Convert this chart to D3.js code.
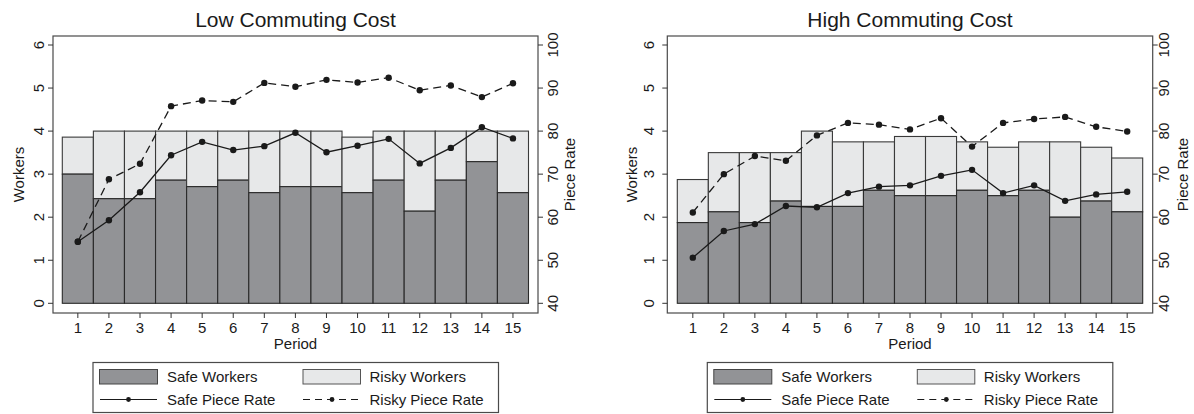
<!DOCTYPE html>
<html>
<head>
<meta charset="utf-8">
<script src="https://cdn.jsdelivr.net/npm/d3@7"></script>
<style>
  body { margin: 0; background: #fff; }
  svg { display: block; font-family: "Liberation Sans", Arial, sans-serif; }
</style>
</head>
<body>
<div id="chart"></div>
<script>
// Periods on the x axis
const periods = [1, 2, 3, 4, 5, 6, 7, 8, 9, 10, 11, 12, 13, 14, 15];
const workerTicks = [0, 1, 2, 3, 4, 5, 6];
const rateTicks = [40, 50, 60, 70, 80, 90, 100];

// Low commuting cost
const lowSafeWorkers  = [3.0, 2.43, 2.43, 2.86, 2.71, 2.86, 2.57, 2.71, 2.71, 2.57, 2.86, 2.14, 2.86, 3.29, 2.57];
const lowRiskyWorkers = [0.86, 1.57, 1.57, 1.14, 1.29, 1.14, 1.43, 1.29, 1.29, 1.29, 1.14, 1.86, 1.14, 0.71, 1.43];
const lowSafeRate  = [54.3, 59.3, 65.8, 74.4, 77.5, 75.6, 76.5, 79.6, 75.1, 76.6, 78.2, 72.5, 76.1, 80.9, 78.3];
const lowRiskyRate = [54.3, 68.8, 72.4, 85.8, 87.1, 86.8, 91.2, 90.3, 91.9, 91.3, 92.4, 89.5, 90.6, 87.9, 91.1];

// High commuting cost
const highSafeWorkers  = [1.875, 2.125, 1.875, 2.375, 2.25, 2.25, 2.625, 2.5, 2.5, 2.625, 2.5, 2.625, 2.0, 2.375, 2.125];
const highRiskyWorkers = [1.0, 1.375, 1.625, 1.125, 1.75, 1.5, 1.125, 1.375, 1.375, 1.125, 1.125, 1.125, 1.75, 1.25, 1.25];
const highSafeRate  = [50.6, 56.8, 58.4, 62.6, 62.3, 65.6, 67.1, 67.4, 69.6, 71.0, 65.6, 67.4, 63.8, 65.3, 65.9];
const highRiskyRate = [61.1, 70.0, 74.2, 73.1, 79.0, 81.9, 81.5, 80.4, 83.0, 76.4, 81.9, 82.8, 83.3, 81.0, 79.9];

const W = 1194, H = 414;
const SAFE_FILL = '#929396';
const RISKY_FILL = '#e7e8e9';
const INK = '#1a1a1a';

const svg = d3.select('#chart').append('svg')
  .attr('width', W)
  .attr('height', H);

function drawPanel(cfg) {
  const g = svg.append('g');
  const top = 36, bottom = 313;

  const x = d3.scaleLinear().domain([0.5, 15.5]).range([cfg.barLeft, cfg.barRight]);
  const yW = d3.scaleLinear().domain([0, 6]).range([303.3, 45]);
  const yR = d3.scaleLinear().domain([40, 100]).range([303.3, 45]);
  const bw = x(1.5) - x(0.5);

  // Plot region outline
  g.append('rect')
    .attr('x', cfg.left).attr('y', top)
    .attr('width', cfg.right - cfg.left).attr('height', bottom - top)
    .attr('fill', '#fff').attr('stroke', '#4a4a4a').attr('stroke-width', 1.2);

  // Bars: safe on bottom, risky stacked above
  const bars = g.append('g');
  periods.forEach((p, i) => {
    const s = cfg.safe[i], r = cfg.risky[i];
    bars.append('rect')
      .attr('x', x(p) - bw / 2).attr('y', yW(s + r))
      .attr('width', bw).attr('height', yW(s) - yW(s + r))
      .attr('fill', RISKY_FILL).attr('stroke', '#3a3a3a').attr('stroke-width', 1.1);
    bars.append('rect')
      .attr('x', x(p) - bw / 2).attr('y', yW(s))
      .attr('width', bw).attr('height', yW(0) - yW(s))
      .attr('fill', SAFE_FILL).attr('stroke', '#2a2a2a').attr('stroke-width', 1.1);
  });

  // Piece rate lines
  const line = d3.line().x((d, i) => x(periods[i])).y(d => yR(d));
  g.append('path').datum(cfg.riskyRate)
    .attr('d', line).attr('fill', 'none')
    .attr('stroke', INK).attr('stroke-width', 1.3).attr('stroke-dasharray', '8,5');
  g.append('path').datum(cfg.safeRate)
    .attr('d', line).attr('fill', 'none')
    .attr('stroke', INK).attr('stroke-width', 1.3);
  [cfg.safeRate, cfg.riskyRate].forEach(arr => {
    g.append('g').selectAll('circle').data(arr).join('circle')
      .attr('cx', (d, i) => x(periods[i])).attr('cy', d => yR(d))
      .attr('r', 3.2).attr('fill', INK);
  });

  // Left axis (Workers)
  const ax = g.append('g');
  workerTicks.forEach(t => {
    ax.append('line').attr('x1', cfg.left - 5).attr('x2', cfg.left)
      .attr('y1', yW(t)).attr('y2', yW(t)).attr('stroke', '#333');
    ax.append('text')
      .attr('transform', `translate(${cfg.leftLabel},${yW(t)}) rotate(-90)`)
      .attr('text-anchor', 'middle').attr('font-size', 15).attr('fill', INK)
      .text(t);
  });
  ax.append('text')
    .attr('transform', `translate(${cfg.leftTitle},${(top + bottom) / 2}) rotate(-90)`)
    .attr('text-anchor', 'middle').attr('font-size', 15).attr('fill', INK)
    .text('Workers');

  // Right axis (Piece Rate)
  rateTicks.forEach(t => {
    ax.append('line').attr('x1', cfg.right).attr('x2', cfg.right + 5)
      .attr('y1', yR(t)).attr('y2', yR(t)).attr('stroke', '#333');
    ax.append('text')
      .attr('transform', `translate(${cfg.rightLabel},${yR(t)}) rotate(-90)`)
      .attr('text-anchor', 'middle').attr('font-size', 15).attr('fill', INK)
      .text(t);
  });
  ax.append('text')
    .attr('transform', `translate(${cfg.rightTitle},${(top + bottom) / 2}) rotate(-90)`)
    .attr('text-anchor', 'middle').attr('font-size', 15).attr('fill', INK)
    .text('Piece Rate');

  // Bottom axis (Period)
  periods.forEach(p => {
    ax.append('line').attr('x1', x(p)).attr('x2', x(p))
      .attr('y1', bottom).attr('y2', bottom + 5).attr('stroke', '#333');
    ax.append('text')
      .attr('x', x(p)).attr('y', 332.5)
      .attr('text-anchor', 'middle').attr('font-size', 15).attr('fill', INK)
      .text(p);
  });
  const cx = (cfg.left + cfg.right) / 2;
  ax.append('text')
    .attr('x', cx).attr('y', 349)
    .attr('text-anchor', 'middle').attr('font-size', 15).attr('fill', INK)
    .text('Period');

  // Title
  g.append('text')
    .attr('x', cx).attr('y', 26.5)
    .attr('text-anchor', 'middle').attr('font-size', 21).attr('fill', INK)
    .text(cfg.title);

  // Legend
  const lx = cfg.left + 40, ly = 362.5;
  const lg = g.append('g').attr('transform', `translate(${lx},${ly})`);
  lg.append('rect').attr('x', 0).attr('y', 0).attr('width', 405.5).attr('height', 50)
    .attr('fill', '#fff').attr('stroke', '#4a4a4a').attr('stroke-width', 1.2);
  lg.append('rect').attr('x', 6.5).attr('y', 7).attr('width', 58).attr('height', 14.5)
    .attr('fill', SAFE_FILL).attr('stroke', '#444');
  lg.append('rect').attr('x', 210).attr('y', 7).attr('width', 57.5).attr('height', 14.5)
    .attr('fill', RISKY_FILL).attr('stroke', '#555');
  lg.append('line').attr('x1', 7).attr('x2', 64).attr('y1', 37).attr('y2', 37)
    .attr('stroke', INK).attr('stroke-width', 1.1);
  lg.append('circle').attr('cx', 35.5).attr('cy', 37).attr('r', 2.4).attr('fill', INK);
  lg.append('line').attr('x1', 210).attr('x2', 268).attr('y1', 37).attr('y2', 37)
    .attr('stroke', INK).attr('stroke-width', 1.1).attr('stroke-dasharray', '7,5');
  lg.append('circle').attr('cx', 239).attr('cy', 37).attr('r', 2.4).attr('fill', INK);
  const labels = [
    ['Safe Workers', 74, 19.5], ['Risky Workers', 276.5, 19.5],
    ['Safe Piece Rate', 74, 42], ['Risky Piece Rate', 276.5, 42]
  ];
  labels.forEach(([t, tx, ty]) => {
    lg.append('text').attr('x', tx).attr('y', ty)
      .attr('font-size', 15).attr('fill', INK).text(t);
  });
}

drawPanel({
  title: 'Low Commuting Cost',
  left: 53, right: 538, barLeft: 62.3, barRight: 528.5,
  leftLabel: 44, leftTitle: 24, rightLabel: 558, rightTitle: 575,
  safe: lowSafeWorkers, risky: lowRiskyWorkers,
  safeRate: lowSafeRate, riskyRate: lowRiskyRate
});

drawPanel({
  title: 'High Commuting Cost',
  left: 667.3, right: 1152.7, barLeft: 677.3, barRight: 1142.7,
  leftLabel: 654, leftTitle: 637, rightLabel: 1169, rightTitle: 1188,
  safe: highSafeWorkers, risky: highRiskyWorkers,
  safeRate: highSafeRate, riskyRate: highRiskyRate
});
</script>
</body>
</html>
